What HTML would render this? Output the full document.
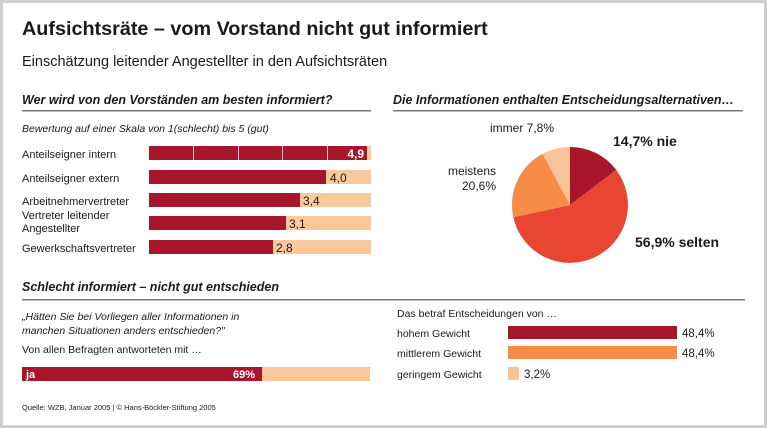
<!DOCTYPE html>
<html><head><meta charset="utf-8"><style>
body{margin:0;background:#fff}
svg{display:block}
text{font-family:"Liberation Sans",sans-serif;fill:#1a1a1a}
.b{font-weight:bold}.i{font-style:italic}
</style></head><body>
<svg width="767" height="428" viewBox="0 0 767 428" xmlns="http://www.w3.org/2000/svg">
<rect x="1.5" y="1.5" width="764" height="425" fill="#fff" stroke="#cfcfcf" stroke-width="3"/>
<text x="22" y="35" class="b" font-size="19.8">Aufsichtsräte – vom Vorstand nicht gut informiert</text>
<text x="22" y="66" font-size="14.5">Einschätzung leitender Angestellter in den Aufsichtsräten</text>

<text x="22" y="104" class="b i" font-size="12.5">Wer wird von den Vorständen am besten informiert?</text>
<rect x="22" y="110" width="349" height="1.5" fill="#777"/>
<text x="22" y="132" class="i" font-size="10.5">Bewertung auf einer Skala von 1(schlecht) bis 5 (gut)</text>

<g font-size="11">
<text x="22" y="158">Anteilseigner intern</text>
<text x="22" y="182">Anteilseigner extern</text>
<text x="22" y="205">Arbeitnehmervertreter</text>
<text x="22" y="219">Vertreter leitender</text>
<text x="22" y="232">Angestellter</text>
<text x="22" y="252">Gewerkschaftsvertreter</text>
</g>
<g fill="#f9c99c">
<rect x="149" y="146" width="222" height="14"/>
<rect x="149" y="170" width="222" height="14"/>
<rect x="149" y="193" width="222" height="14"/>
<rect x="149" y="216" width="222" height="14"/>
<rect x="149" y="240" width="222" height="14"/>
</g>
<g fill="#a8162b">
<rect x="149" y="146" width="218" height="14"/>
<rect x="149" y="170" width="177" height="14"/>
<rect x="149" y="193" width="151" height="14"/>
<rect x="149" y="216" width="137" height="14"/>
<rect x="149" y="240" width="124" height="14"/>
</g>
<g fill="#e6c9cc"><rect x="193" y="146" width="1" height="14"/><rect x="238" y="146" width="1" height="14"/><rect x="282" y="146" width="1" height="14"/><rect x="327" y="146" width="1" height="14"/></g>
<text x="364" y="158" class="b" font-size="12" text-anchor="end" style="fill:#fff">4,9</text>
<g font-size="12"><text x="330" y="182">4,0</text><text x="303" y="205">3,4</text><text x="289" y="228">3,1</text><text x="276" y="252">2,8</text></g>

<text x="393" y="104" class="b i" font-size="12.5">Die Informationen enthalten Entscheidungsalternativen…</text>
<rect x="393" y="110" width="350" height="1.5" fill="#777"/>
<path d="M570 205 L570 147 A58 58 0 0 1 616.3 170 Z" fill="#a8162b"/>
<path d="M570 205 L616.3 170 A58 58 0 1 1 513.3 217.3 Z" fill="#e84632"/>
<path d="M570 205 L513.3 217.3 A58 58 0 0 1 542.7 153.8 Z" fill="#f68c48"/>
<path d="M570 205 L542.7 153.8 A58 58 0 0 1 570 147 Z" fill="#f9c399"/>
<text x="490" y="132" font-size="12">immer 7,8%</text>
<text x="613" y="146" class="b" font-size="14">14,7% nie</text>
<text x="496" y="175" font-size="12" text-anchor="end">meistens</text>
<text x="496" y="190" font-size="12" text-anchor="end">20,6%</text>
<text x="635" y="247" class="b" font-size="14">56,9% selten</text>

<text x="22" y="291" class="b i" font-size="12.5">Schlecht informiert – nicht gut entschieden</text>
<rect x="22" y="299" width="723" height="1.5" fill="#777"/>
<text x="22" y="320" class="i" font-size="10.5">„Hätten Sie bei Vorliegen aller Informationen in</text>
<text x="22" y="334" class="i" font-size="10.5">manchen Situationen anders entschieden?"</text>
<text x="22" y="353" font-size="10.5">Von allen Befragten antworteten mit …</text>
<rect x="22" y="367" width="348" height="14" fill="#f9c99c"/>
<rect x="22" y="367" width="240" height="14" fill="#a8162b"/>
<text x="26" y="378" class="b" font-size="11" style="fill:#fff">ja</text>
<text x="255" y="378" class="b" font-size="11" text-anchor="end" style="fill:#fff">69%</text>

<text x="397" y="317" font-size="10.5">Das betraf Entscheidungen von …</text>
<text x="397" y="337" font-size="10.5">hohem Gewicht</text>
<text x="397" y="357" font-size="10.5">mittlerem Gewicht</text>
<text x="397" y="378" font-size="10.5">geringem Gewicht</text>
<rect x="508" y="326" width="169" height="13" fill="#a8162b"/>
<rect x="508" y="346" width="169" height="13" fill="#f68c48"/>
<rect x="508" y="367" width="11" height="13" fill="#f9c399"/>
<g font-size="11.5"><text x="682" y="337">48,4%</text><text x="682" y="357">48,4%</text><text x="524" y="378">3,2%</text></g>

<text x="22" y="410" font-size="7.5">Quelle: WZB, Januar 2005 | © Hans-Böckler-Stiftung 2005</text>
</svg>
</body></html>
